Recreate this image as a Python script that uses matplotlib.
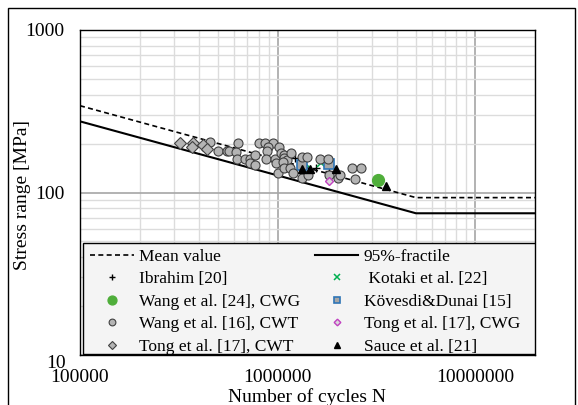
import matplotlib
matplotlib.use('Agg')
import matplotlib.pyplot as plt
from matplotlib.ticker import FixedLocator, LogLocator, NullFormatter, FixedFormatter
from matplotlib.patches import Rectangle

plt.rcParams['font.family'] = ['Liberation Serif', 'DejaVu Serif']

# design curves (corner points)
curve_N = [1e5, 5e6, 2e7]
mean_S = [342, 93, 93]
fract_S = [274, 74.5, 74.5]

# test data
ibrahim_N = [1.22e6, 1.57e6, 1.82e6]
ibrahim_S = [163, 142, 136]

kotaki_N = [1.37e6, 1.66e6]
kotaki_S = [152, 151]

wang24_N = [3.21e6]
wang24_S = [119]

kovesdi_N = [1.32e6, 1.82e6]
kovesdi_S = [147, 150]

wang16_N = [4.57e5, 4.99e5, 5.51e5, 5.68e5, 6.14e5, 6.30e5, 6.23e5, 6.81e5, 7.22e5,
            7.27e5, 7.65e5, 7.65e5, 8.05e5, 8.59e5, 9.46e5, 1.02e6, 8.93e5, 8.83e5,
            8.77e5, 9.73e5, 9.84e5, 1.00e6, 1.04e6, 1.07e6, 1.08e6, 1.11e6, 1.06e6,
            1.08e6, 1.15e6, 1.17e6, 1.195e6, 1.32e6, 1.41e6, 1.33e6, 1.43e6, 1.64e6,
            1.79e6, 1.82e6, 2.02e6, 2.06e6, 2.38e6, 2.65e6, 2.45e6]
wang16_S = [204, 181, 181, 181, 177, 203, 160, 160, 160,
            151, 148, 170, 203, 203, 203, 191, 191, 181,
            160, 160, 151, 132, 174, 170, 162, 158, 155,
            141, 141, 174, 132, 166, 166, 122, 128, 160,
            160, 128, 122, 128, 141, 141, 121]

tong17g_N = [1.81e6]
tong17g_S = [117]

tong17t_N = [3.20e5, 3.73e5, 3.69e5, 4.17e5, 4.37e5]
tong17t_S = [203, 203, 191, 196, 184]

sauce_N = [1.32e6, 1.45e6, 1.98e6, 3.51e6]
sauce_S = [139, 139, 139, 110]

fig = plt.figure(figsize=(5.78, 4.05), dpi=100)
ax = fig.add_axes([80 / 578, 1 - 355 / 405, 455 / 578, 325 / 405])

ax.set_xscale('log')
ax.set_yscale('log')
ax.set_xlim(1e5, 2e7)
ax.set_ylim(10, 1000)

mean_ln, = ax.plot(curve_N, mean_S, color='black', ls=(0, (3, 2)), lw=1.2, zorder=3)
fract_ln, = ax.plot(curve_N, fract_S, color='black', lw=1.5, zorder=3)

mk = dict(ls='none', zorder=4)
h_ib, = ax.plot(ibrahim_N, ibrahim_S, marker='+', ms=6, mew=1, color='black', **mk)
h_ko, = ax.plot(kotaki_N, kotaki_S, marker='x', ms=6, mew=1.1, color='#00b050', **mk)
h_w24, = ax.plot(wang24_N, wang24_S, marker='o', ms=8.5, mfc='#4fae3a', mec='#4fae3a', **mk)
h_kd, = ax.plot(kovesdi_N, kovesdi_S, marker='s', ms=6.5, mfc='#a6a6a6', mec='#2e75b6', mew=1.2, **mk)
h_w16, = ax.plot(wang16_N, wang16_S, marker='o', ms=6.5, mfc='#b4b4b4', mec='#404040', mew=0.8, **mk)
h_tg, = ax.plot(tong17g_N, tong17g_S, marker='D', ms=4.5, mfc='#d9d9d9', mec='#c040c0', mew=1.0, **mk)
h_tt, = ax.plot(tong17t_N, tong17t_S, marker='D', ms=6, mfc='#b4b4b4', mec='#404040', mew=0.8, **mk)
h_sa, = ax.plot(sauce_N, sauce_S, marker='^', ms=6, color='black', **mk)

# grid
ax.xaxis.set_major_locator(FixedLocator([1e5, 1e6, 1e7]))
ax.xaxis.set_major_formatter(FixedFormatter(['100000', '1000000', '10000000']))
ax.yaxis.set_major_locator(FixedLocator([10, 100, 1000]))
ax.yaxis.set_major_formatter(FixedFormatter(['', '100', '1000']))
ax.xaxis.set_minor_locator(LogLocator(base=10, subs=range(2, 10), numticks=20))
ax.yaxis.set_minor_locator(LogLocator(base=10, subs=range(2, 10), numticks=20))
ax.xaxis.set_minor_formatter(NullFormatter())
ax.yaxis.set_minor_formatter(NullFormatter())
ax.grid(True, which='major', color='#a6a6a6', lw=1.2)
ax.grid(True, which='minor', color='#dcdcdc', lw=1.0)
ax.set_axisbelow(True)
ax.tick_params(which='both', length=0, labelsize=14)
ax.tick_params(axis='x', pad=10)
ax.tick_params(axis='y', pad=11)
for s in ax.spines.values():
    s.set_color('black')
    s.set_linewidth(1.0)

# bottom y label sits lower, like the original
ax.text(-14 / 455, -9 / 325, '10', transform=ax.transAxes, ha='right', va='center', fontsize=14)

fig.text(23 / 578, 1 - 195 / 405, 'Stress range [MPa]', rotation=90, ha='center', va='center', fontsize=14)
fig.text(307 / 578, 1 - 397 / 405, 'Number of cycles N', ha='center', va='center', fontsize=14)

# legend box drawn by hand so its width matches the original
ax.add_patch(Rectangle((3 / 455, 1 / 325), 452 / 455, 111 / 325, transform=ax.transAxes,
                       facecolor='#f4f4f4', edgecolor='black', lw=1.0, zorder=5))

handles = [mean_ln, h_ib, h_w24, h_w16, h_tt, fract_ln, h_ko, h_kd, h_tg, h_sa]
labels = ['Mean value', 'Ibrahim [20]', 'Wang et al. [24], CWG', 'Wang et al. [16], CWT',
          'Tong et al. [17], CWT', '95%-fractile', ' Kotaki et al. [22]', 'Kövesdi&Dunai [15]',
          'Tong et al. [17], CWG', 'Sauce et al. [21]']
leg = ax.legend(handles, labels, ncol=2, loc='upper left',
                bbox_to_anchor=(7 / 455, 110 / 325), borderaxespad=0, frameon=False,
                fontsize=12.5, handlelength=2.5, handletextpad=0.3, labelspacing=0.37,
                columnspacing=0.85, markerscale=0.75, borderpad=0.2)
leg.set_zorder(6)

fig.patches.append(Rectangle((8 / 578, -0.05), 567 / 578, 1.05 - 8 / 405, transform=fig.transFigure,
                             fill=False, edgecolor='black', lw=1.0))

fig.savefig('out.png', dpi=100)
